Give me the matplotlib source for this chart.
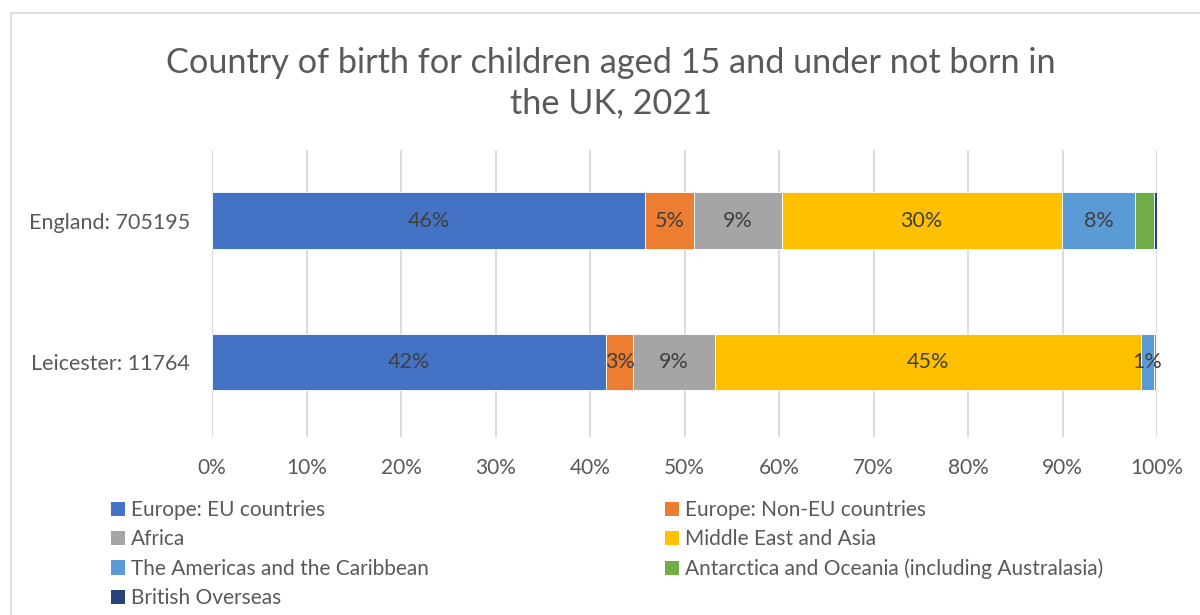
import matplotlib.pyplot as plt
from matplotlib.patches import Rectangle, Patch

plt.rcParams['font.family'] = ['Lato', 'DejaVu Sans']

zones = ["Leicester: 11764", "England: 705195"]
regions = [
    "Europe: EU countries",
    "Europe: Non-EU countries",
    "Africa",
    "Middle East and Asia",
    "The Americas and the Caribbean",
    "Antarctica and Oceania (including Australasia)",
    "British Overseas",
]
# percentages, [Leicester, England]
eu = [41.7, 45.8]
non_eu = [2.9, 5.2]
africa = [8.6, 9.3]
me_asia = [45.1, 29.6]
americas = [1.4, 7.8]
oceania = [0.2, 2.0]
british = [0.2, 0.3]
series = [eu, non_eu, africa, me_asia, americas, oceania, british]
couleurs = ["#4472C4", "#ED7D31", "#A5A5A5", "#FFC000", "#5B9BD5", "#70AD47", "#264478"]
etiquetes = [True, True, True, True, True, False, False]

texte = "#595959"

fig = plt.figure(figsize=(12, 6.15), dpi=100)
ax = fig.add_axes([212 / 1200, 1 - 437 / 615, 945 / 1200, 287 / 615])

# cadre du graphique
fig.patches.append(Rectangle((11 / 1200, -0.1), 1.2, 1 - 13 / 615 + 0.1,
                             transform=fig.transFigure, fill=False,
                             edgecolor="#d9d9d9", linewidth=1.2))

gauche = [0.0, 0.0]
for nom, vals, c, lab in zip(regions, series, couleurs, etiquetes):
    bars = ax.barh(zones, vals, left=gauche, height=0.4, color=c,
                   edgecolor="white", linewidth=0.6, label=nom, zorder=3)
    if lab:
        for b, v in zip(bars, vals):
            ax.text(b.get_x() + b.get_width() / 2, b.get_y() + b.get_height() / 2,
                    f"{round(v):.0f}%", ha="center", va="center",
                    fontsize=15.5, color="#404040", zorder=4)
    gauche = [g + v for g, v in zip(gauche, vals)]

ax.set_xlim(0, 100)
ax.set_ylim(-0.53, 1.5)
ax.set_xticks(range(0, 101, 10))
ax.set_xticklabels([f"{x}%" for x in range(0, 101, 10)])
ax.grid(axis="x", color="#d9d9d9", linewidth=1.3, zorder=0)
for s in ax.spines.values():
    s.set_visible(False)
ax.tick_params(length=0, labelsize=15, labelcolor=texte)
ax.tick_params(axis="x", pad=15)
ax.tick_params(axis="y", pad=16, labelsize=15.5)

fig.text(0.509, 1 - 83 / 615, "Country of birth for children aged 15 and under not born in\nthe UK, 2021",
         ha="center", va="center", fontsize=24.7, color=texte, linespacing=1.3)

# légende : ordre ligne par ligne sur deux colonnes
ordre = [0, 2, 4, 6, 1, 3, 5]
poignees = [Patch(facecolor=couleurs[i], label=regions[i]) for i in ordre]
leg = fig.legend(handles=poignees, loc="upper left", bbox_to_anchor=(111 / 1200, 1 - 500 / 615),
                 ncol=2, frameon=False, fontsize=15, handlelength=0.68, handleheight=0.68,
                 handletextpad=0.3, columnspacing=11.3, labelspacing=0.45,
                 labelcolor=texte, borderaxespad=0, borderpad=0)

fig.savefig("out.png", dpi=100)
plt.close()
